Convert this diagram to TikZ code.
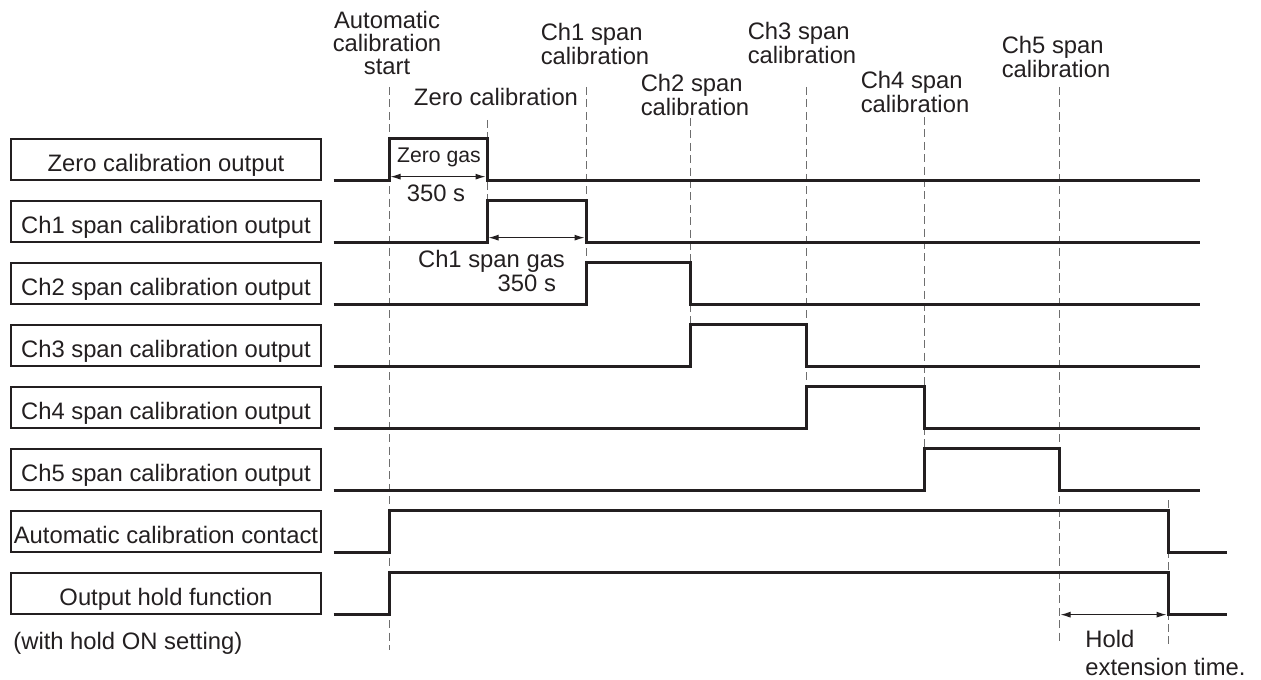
\documentclass[tikz,border=0pt]{standalone}
\usepackage{fontspec}
\setmainfont{Liberation Sans}
\usepackage{tikz}
\usetikzlibrary{
  arrows.meta,
  positioning
}
\definecolor{inkblack}{RGB}{35,31,32}
\definecolor{guidegray}{RGB}{110,110,110}

\begin{document}
\begin{tikzpicture}[
  x=0.5pt, y=-0.5pt,
  font=\fontsize{11.9}{11.7}\selectfont,
  color=inkblack,
  node distance=9.85pt,
  sigbox/.style={draw,line width=0.65pt,minimum width=155pt,
                 minimum height=20.5pt,inner sep=0pt,
                 text height=12pt,text depth=0pt},
  sig/.style={line width=1.5pt},
  guide/.style={guidegray,line width=0.5pt,dash pattern=on 4pt off 2.2pt},
  span/.style={{Latex[length=5pt,width=3pt]}-{Latex[length=5pt,width=3pt]},
               line width=0.5pt,shorten <=0.75pt,shorten >=0.75pt},
  small/.style={font=\fontsize{10.6}{12}\selectfont},
]
\useasboundingbox (0,0) rectangle (1261,679);

% output boxes
\node[sigbox] (zero) at (166,159.5) {Zero calibration output};
\node[sigbox, below=of zero] (ch1)  {Ch1 span calibration output};
\node[sigbox, below=of ch1]  (ch2)  {Ch2 span calibration output};
\node[sigbox, below=of ch2]  (ch3)  {Ch3 span calibration output};
\node[sigbox, below=of ch3]  (ch4)  {Ch4 span calibration output};
\node[sigbox, below=of ch4]  (ch5)  {Ch5 span calibration output};
\node[sigbox, below=of ch5]  (auto) {Automatic calibration contact};
\node[sigbox, below=of auto] (hold) {Output hold function};
\node[anchor=west,inner sep=0pt] (holdnote) at (13,643) {(with hold ON setting)};

% time marks
\coordinate (tA) at (389,87);
\coordinate (tZ) at (487,120);
\coordinate (t1) at (586,87);
\coordinate (t2) at (690,118);
\coordinate (t3) at (806,87);
\coordinate (t4) at (924,117);
\coordinate (t5) at (1059,87);
\coordinate (tH) at (1168,500);
\coordinate (tE) at (1200,0);
\coordinate (tF) at (1227,0);

\draw[guide] (tA) -- ++(0,563);
\draw[guide] (tZ) -- (tZ |- ch1.south);
\draw[guide] (t1) -- (t1 |- ch2.south);
\draw[guide] (t2) -- (t2 |- ch3.south);
\draw[guide] (t3) -- (t3 |- ch4.south);
\draw[guide] (t4) -- (t4 |- ch5.south);
\draw[guide] (t5) -- ++(0,556);
\draw[guide] (tH) -- ++(0,147);

% signals
\draw[sig] ([xshift=6pt]zero.south east) -| (tA |- zero.north) -| (tZ |- zero.south) -- (tE |- zero.south);
\draw[sig] ([xshift=6pt]ch1.south east)  -| (tZ |- ch1.north)  -| (t1 |- ch1.south)  -- (tE |- ch1.south);
\draw[sig] ([xshift=6pt]ch2.south east)  -| (t1 |- ch2.north)  -| (t2 |- ch2.south)  -- (tE |- ch2.south);
\draw[sig] ([xshift=6pt]ch3.south east)  -| (t2 |- ch3.north)  -| (t3 |- ch3.south)  -- (tE |- ch3.south);
\draw[sig] ([xshift=6pt]ch4.south east)  -| (t3 |- ch4.north)  -| (t4 |- ch4.south)  -- (tE |- ch4.south);
\draw[sig] ([xshift=6pt]ch5.south east)  -| (t4 |- ch5.north)  -| (t5 |- ch5.south)  -- (tE |- ch5.south);
\draw[sig] ([xshift=6pt]auto.south east) -| (tA |- auto.north) -| (tH |- auto.south) -- (tF |- auto.south);
\draw[sig] ([xshift=6pt]hold.south east) -| (tA |- hold.north) -| (tH |- hold.south) -- (tF |- hold.south);

% durations
\draw[span] ([yshift=2pt]tA |- zero.south) -- ([yshift=2pt]tZ |- zero.south);
\draw[span] ([yshift=2.5pt]tZ |- ch1.south) -- ([yshift=2.5pt]t1 |- ch1.south);
\draw[span] (t5 |- hold.south) -- (tH |- hold.south);

\node[small] (zgas) at (439,157) {Zero gas};
\node (zsec) at (436,193) {350 s};
\node[align=right,anchor=east] (c1gas) at (572,271) {Ch1 span gas\\350 s\hspace*{4.5pt}};
\node[align=left,anchor=west,inner sep=0pt] (holdext) at (1085,653) {Hold\\[2.5pt]extension time.};

% event labels
\node[align=center] (lblA) at (387,43)  {Automatic\\calibration\\start};
\node               (lblZ) at (496,97)  {Zero calibration};
\node[align=left]   (lbl1) at (595,44)  {Ch1 span\\calibration};
\node[align=left]   (lbl2) at (695,95)  {Ch2 span\\calibration};
\node[align=left]   (lbl3) at (802,43)  {Ch3 span\\calibration};
\node[align=left]   (lbl4) at (915,92)  {Ch4 span\\calibration};
\node[align=left]   (lbl5) at (1056,57) {Ch5 span\\calibration};
\end{tikzpicture}
\end{document}
